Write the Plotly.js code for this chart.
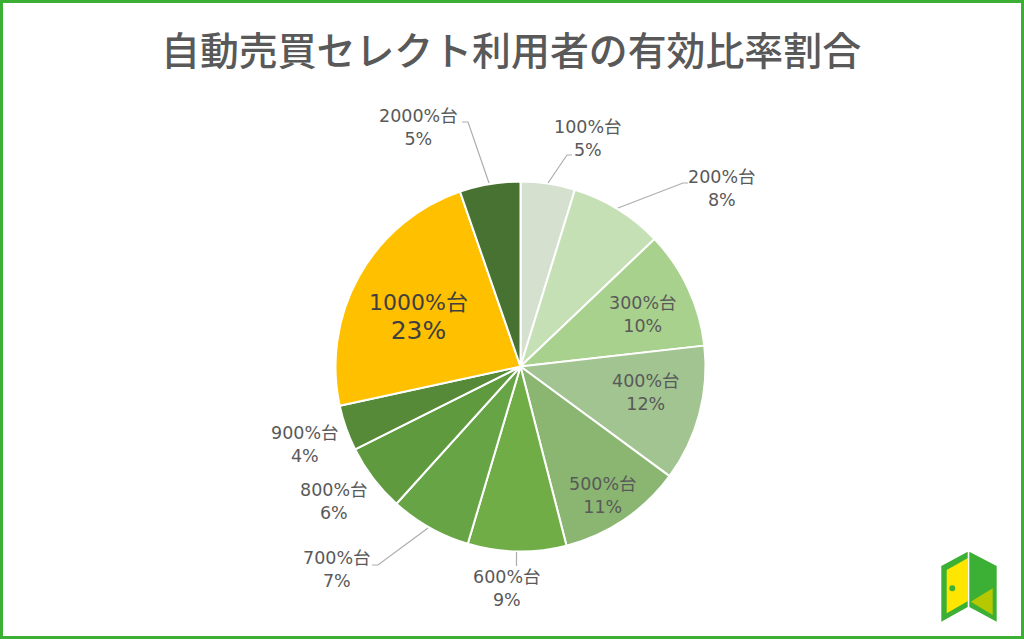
<!DOCTYPE html>
<html><head><meta charset="utf-8">
<script src="https://cdn.plot.ly/plotly-3.0.1.min.js"></script>
<style>html,body{margin:0;padding:0;background:#fff}</style></head>
<body><div id="chart" style="width:1024px;height:639px"></div>
<script>
const categories=["100%台","200%台","300%台","400%台","500%台","600%台","700%台","800%台","900%台","1000%台","2000%台"];
const shownPercent=[5,8,10,12,11,9,7,6,4,23,5];
const sliceValues=[4.75,8.15,10.3,11.9,10.9,8.6,7.1,5.9,4.0,23.1,5.3];
const sliceColors=["#D5E0CF","#C5E0B4","#A9D18E","#A1C490","#8AB672","#70AD47","#66A446","#5F9A3F","#568A38","#FFC000","#487231"];
const labelX=[588,722,643,646,603,507,337,334,305,418,418];
const labelY=[138,188,314,392,495,588,569,501,444,317,127.5];
const W=1024,H=639;
const px=x=>x/W, py=y=>1-y/H;
const labelFont='"DejaVu Sans","Noto Sans CJK JP",sans-serif';
const titleFont='"Noto Sans CJK JP",sans-serif';
const annotations=categories.map((c,i)=>({
  xref:'paper',yref:'paper',x:px(labelX[i]),y:py(labelY[i]),xanchor:'center',yanchor:'middle',showarrow:false,
  text:c==="1000%台"?c+'<br><span style="font-size:25px">'+shownPercent[i]+'%</span>':c+'<br>'+shownPercent[i]+'%',
  align:'center',
  font:c==="1000%台"?{family:labelFont,size:22,color:'#404040'}:{family:labelFont,size:17.5,color:'#595959'}
}));
annotations.push({xref:'paper',yref:'paper',x:px(511),y:py(48.5),xanchor:'center',yanchor:'middle',showarrow:false,
  text:'自動売買セレクト利用者の有効比率割合',font:{family:titleFont,size:38.9,weight:500,color:'#595959'}});
const poly=(pts,fill)=>({type:'path',xref:'paper',yref:'paper',line:{width:0},fillcolor:fill,
  path:'M'+pts.map(p=>px(p[0])+','+py(p[1])).join(' L')+' Z'});
const leader=(pts)=>({type:'path',xref:'paper',yref:'paper',fillcolor:'rgba(0,0,0,0)',line:{color:'#ADADAD',width:1.2},
  path:'M'+pts.map(p=>px(p[0])+','+py(p[1])).join(' L')});
const shapes=[
  {type:'rect',xref:'paper',yref:'paper',x0:px(1.5),x1:px(1022.5),y0:py(1.5),y1:py(637.5),line:{color:'#3CB034',width:3},fillcolor:'rgba(0,0,0,0)'},
  leader([[548,183],[567,155],[572,155]]),
  leader([[618,208],[683,183],[688,183]]),
  leader([[516.5,552],[516.5,566]]),
  leader([[428,528],[378,565],[372,565]]),
  leader([[489,183],[468,122],[462,122]]),
  poly([[941.3,566],[967.7,551.7],[967.7,607],[941.3,621.7]],'#3CB034'),
  poly([[946.7,570],[968,558],[968,601],[946.7,613.3]],'#FFE600'),
  poly([[969.3,551.7],[996.7,566],[996.7,621.7],[969.3,607]],'#3CB034'),
  poly([[992.7,588.3],[992.7,615],[970.7,601.7]],'#B5C800'),
  {type:'circle',xref:'paper',yref:'paper',x0:px(949.3),x1:px(955.3),y0:py(585.3),y1:py(591.3),line:{width:0},fillcolor:'#3CB034'}
];
Plotly.newPlot('chart',[{
  type:'pie',labels:categories,values:sliceValues,sort:false,direction:'clockwise',rotation:0,
  marker:{colors:sliceColors,line:{color:'#FFFFFF',width:2}},textinfo:'none',hoverinfo:'label+percent',
  domain:{x:[px(335.5),px(705.5)],y:[py(551.5),py(181.5)]}
}],{
  width:W,height:H,margin:{l:0,r:0,t:0,b:0},showlegend:false,paper_bgcolor:'#fff',annotations,shapes
},{displayModeBar:false});
</script></body></html>
